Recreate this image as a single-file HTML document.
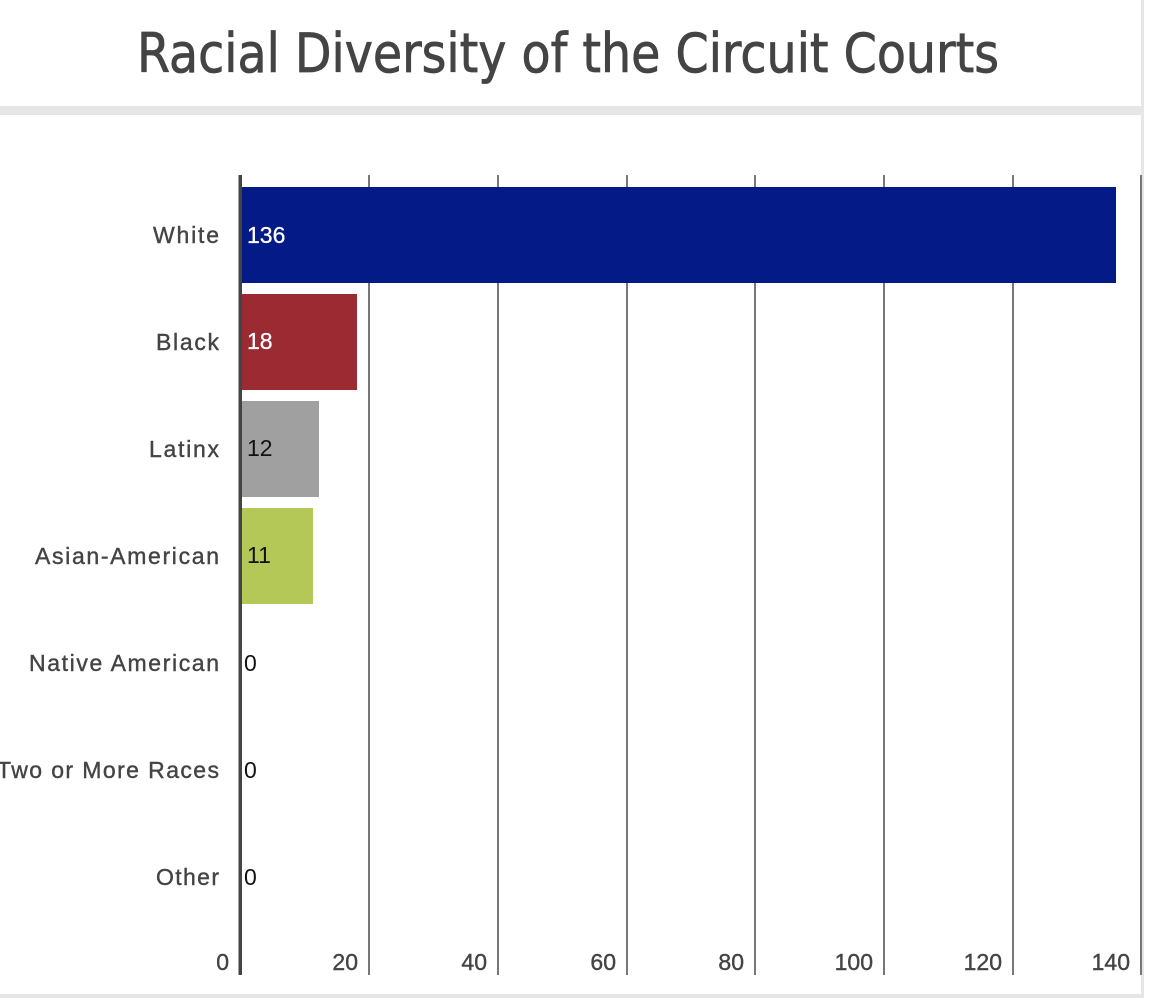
<!DOCTYPE html>
<html><head><meta charset="utf-8"><style>
html,body{margin:0;padding:0;background:#fff;}
</style></head><body>
<svg width="1168" height="998" xmlns="http://www.w3.org/2000/svg" font-family="Liberation Sans, sans-serif">
<rect width="1168" height="998" fill="#fff"/>
<text x="568" y="72" text-anchor="middle" font-family="DejaVu Sans, sans-serif" font-size="54" fill="#444" stroke="#444" stroke-width="0.8" textLength="862" lengthAdjust="spacingAndGlyphs">Racial Diversity of the Circuit Courts</text>
<rect x="0" y="106" width="1143" height="9" fill="#e6e6e6"/>
<rect x="1141" y="0" width="3" height="998" fill="#e6e6e6"/>
<rect x="0" y="994" width="1143" height="4" fill="#e6e6e6"/>
<g stroke="#777" stroke-width="2">
<line x1="369" y1="175" x2="369" y2="975"/>
<line x1="498" y1="175" x2="498" y2="975"/>
<line x1="627" y1="175" x2="627" y2="975"/>
<line x1="755" y1="175" x2="755" y2="975"/>
<line x1="884" y1="175" x2="884" y2="975"/>
<line x1="1013" y1="175" x2="1013" y2="975"/>
<line x1="1141" y1="175" x2="1141" y2="975"/>
</g>
<rect x="241" y="187" width="875" height="96" fill="#041a87"/>
<rect x="241" y="294" width="116" height="96" fill="#9b2a33"/>
<rect x="241" y="401" width="78" height="96" fill="#a0a0a0"/>
<rect x="241" y="508" width="72" height="96" fill="#b3c857"/>
<rect x="238.5" y="175" width="3.5" height="800" fill="#444"/>
<g font-size="23" fill="#444" stroke="#444" stroke-width="0.4" text-anchor="end" lengthAdjust="spacingAndGlyphs">
<text x="219" y="243" textLength="66">White</text>
<text x="219" y="350" textLength="63">Black</text>
<text x="219" y="457" textLength="70">Latinx</text>
<text x="219" y="564" textLength="184">Asian-American</text>
<text x="219" y="671" textLength="190">Native American</text>
<text x="219" y="778" textLength="222">Two or More Races</text>
<text x="219" y="885" textLength="63">Other</text>
<text x="229" y="970">0</text>
<text x="358" y="970">20</text>
<text x="487" y="970">40</text>
<text x="616" y="970">60</text>
<text x="744" y="970">80</text>
<text x="873" y="970">100</text>
<text x="1002" y="970">120</text>
<text x="1130" y="970">140</text>
</g>
<g font-size="23">
<text x="247" y="243" fill="#fff" stroke="#fff" stroke-width="0.3">136</text>
<text x="247" y="349" fill="#fff" stroke="#fff" stroke-width="0.3">18</text>
<text x="247" y="456" fill="#111">12</text>
<text x="247" y="563" fill="#111">11</text>
<text x="244" y="671" fill="#111">0</text>
<text x="244" y="778" fill="#111">0</text>
<text x="244" y="885" fill="#111">0</text>
</g>
</svg>
</body></html>
